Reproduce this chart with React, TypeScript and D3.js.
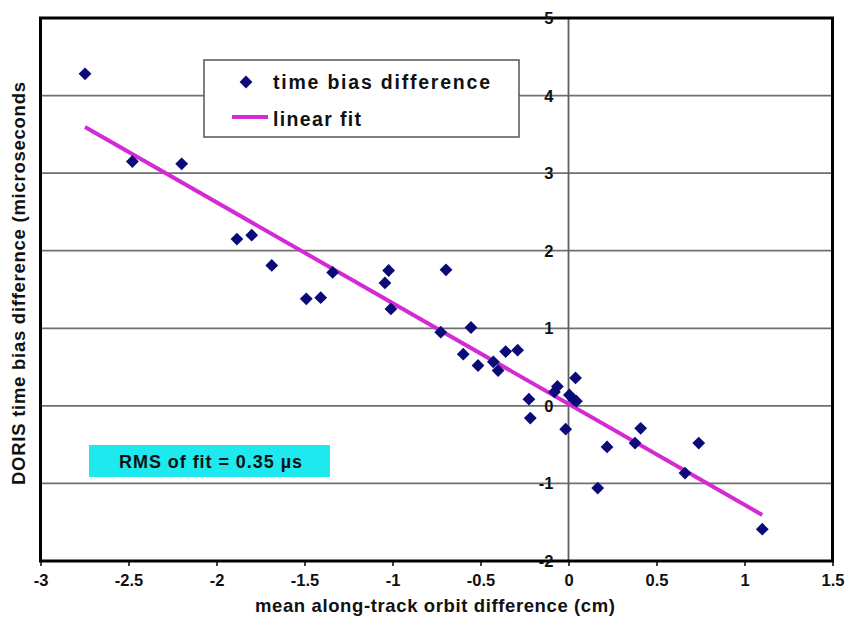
import React, { useEffect, useRef } from "react";
import * as d3 from "d3";

// mean along-track orbit difference (cm)
const orbitDiff = [
  -2.747, -2.478, -2.198, -1.884, -1.8, -1.686, -1.49, -1.408, -1.34, -1.043,
  -1.022, -1.009, -0.696, -0.726, -0.554, -0.598, -0.514, -0.427, -0.4, -0.357,
  -0.289, -0.225, -0.217, -0.08, -0.063, -0.016, 0.005, 0.03, 0.045, 0.04,
  0.166, 0.219, 0.378, 0.41, 0.662, 0.74, 1.101,
];
// DORIS time bias difference (microseconds)
const timeBias = [
  4.28, 3.15, 3.12, 2.15, 2.2, 1.81, 1.38, 1.395, 1.72, 1.585,
  1.745, 1.25, 1.753, 0.95, 1.01, 0.666, 0.52, 0.567, 0.455, 0.7,
  0.718, 0.086, -0.158, 0.18, 0.25, -0.3, 0.14, 0.08, 0.06, 0.36,
  -1.06, -0.53, -0.48, -0.29, -0.867, -0.48, -1.59,
];

// linear fit coefficients
const fitSlope = -1.3;
const fitIntercept = 0.025;

const xTicks = [-3, -2.5, -2, -1.5, -1, -0.5, 0, 0.5, 1, 1.5];
const yTicks = [-2, -1, 0, 1, 2, 3, 4, 5];

const legendLabels = ["time bias difference", "linear fit"];
const rmsLabel = "RMS of fit = 0.35 \u00b5s";
const xTitle = "mean along-track orbit difference (cm)";
const yTitle = "DORIS time bias difference (microseconds";

export default function App() {
  const ref = useRef<SVGSVGElement>(null);

  useEffect(() => {
    const svg = d3.select(ref.current);
    svg.selectAll("*").remove();

    const font = "Arial, 'Liberation Sans', sans-serif";
    const x = d3.scaleLinear().domain([-3, 1.5]).range([40.5, 832.5]);
    const y = d3.scaleLinear().domain([-2, 5]).range([561, 18]);

    // horizontal gridlines
    svg.append("g")
      .selectAll("line")
      .data(yTicks)
      .enter()
      .append("line")
      .attr("x1", x(-3))
      .attr("x2", x(1.5))
      .attr("y1", (d) => y(d))
      .attr("y2", (d) => y(d))
      .attr("stroke", "#707070")
      .attr("stroke-width", 1.8);

    // value axis crossing at x = 0
    svg.append("line")
      .attr("x1", x(0))
      .attr("x2", x(0))
      .attr("y1", y(5))
      .attr("y2", y(-2))
      .attr("stroke", "#606060")
      .attr("stroke-width", 1.8);

    // x axis with ticks
    const xAxis = svg.append("g")
      .attr("transform", "translate(0," + y(-2) + ")")
      .call(
        d3.axisBottom(x)
          .tickValues(xTicks)
          .tickSize(5)
          .tickFormat((d) => String(d))
      );
    xAxis.select(".domain").remove();
    xAxis.selectAll("line").attr("stroke", "#000").attr("stroke-width", 1.5);
    xAxis.selectAll("text")
      .attr("y", 0)
      .attr("dy", "25px")
      .attr("fill", "#111")
      .style("font-family", font)
      .style("font-size", "16.5px")
      .style("font-weight", "bold");

    // plot area border
    svg.append("rect")
      .attr("x", x(-3))
      .attr("y", y(5))
      .attr("width", x(1.5) - x(-3))
      .attr("height", y(-2) - y(5))
      .attr("fill", "none")
      .attr("stroke", "#000")
      .attr("stroke-width", 3);

    // y tick labels next to the axis at x = 0
    svg.append("g")
      .selectAll("text")
      .data(yTicks)
      .enter()
      .append("text")
      .attr("x", x(0) - 15)
      .attr("y", (d) => y(d))
      .attr("dy", "0.36em")
      .attr("text-anchor", "end")
      .attr("fill", "#111")
      .style("font-family", font)
      .style("font-size", "16.5px")
      .style("font-weight", "bold")
      .text((d) => String(d));

    // linear fit line
    const xExt = d3.extent(orbitDiff) as [number, number];
    const line = d3.line<number>()
      .x((d) => x(d))
      .y((d) => y(fitSlope * d + fitIntercept));
    svg.append("path")
      .datum(xExt)
      .attr("d", line)
      .attr("fill", "none")
      .attr("stroke", "#d42ad4")
      .attr("stroke-width", 4);

    // points
    const diamond = d3.symbol().type(d3.symbolSquare).size(82);
    svg.append("g")
      .selectAll("path")
      .data(orbitDiff)
      .enter()
      .append("path")
      .attr("d", diamond)
      .attr("transform", (d, i) => "translate(" + x(d) + "," + y(timeBias[i]) + ") rotate(45)")
      .attr("fill", "#0a0a78");

    // legend
    const lg = svg.append("g");
    lg.append("rect")
      .attr("x", 204)
      .attr("y", 60)
      .attr("width", 315)
      .attr("height", 77)
      .attr("fill", "#fff")
      .attr("stroke", "#555")
      .attr("stroke-width", 1.5);
    lg.append("path")
      .attr("d", diamond)
      .attr("transform", "translate(246,82) rotate(45)")
      .attr("fill", "#0a0a78");
    lg.append("line")
      .attr("x1", 232)
      .attr("x2", 268)
      .attr("y1", 117)
      .attr("y2", 117)
      .attr("stroke", "#d42ad4")
      .attr("stroke-width", 4);
    lg.selectAll("text.lab")
      .data(legendLabels)
      .enter()
      .append("text")
      .attr("class", "lab")
      .attr("x", 273)
      .attr("y", (d, i) => (i === 0 ? 89 : 126))
      .attr("textLength", (d, i) => (i === 0 ? 217 : 88))
      .attr("lengthAdjust", "spacing")
      .attr("fill", "#111")
      .style("font-family", font)
      .style("font-size", "19.5px")
      .style("font-weight", "bold")
      .text((d) => d);

    // RMS box
    svg.append("rect")
      .attr("x", 89)
      .attr("y", 445)
      .attr("width", 241)
      .attr("height", 32)
      .attr("fill", "#1ee9ee");
    svg.append("text")
      .attr("x", 119)
      .attr("y", 468)
      .attr("textLength", 183)
      .attr("lengthAdjust", "spacing")
      .attr("fill", "#111")
      .style("font-family", font)
      .style("font-size", "18px")
      .style("font-weight", "bold")
      .text(rmsLabel);

    // axis titles
    svg.append("text")
      .attr("x", 255)
      .attr("y", 612)
      .attr("textLength", 360)
      .attr("lengthAdjust", "spacing")
      .attr("fill", "#111")
      .style("font-family", font)
      .style("font-size", "18.5px")
      .style("font-weight", "bold")
      .text(xTitle);

    svg.append("text")
      .attr("transform", "translate(25,485) rotate(-90)")
      .attr("textLength", 403)
      .attr("lengthAdjust", "spacing")
      .attr("fill", "#111")
      .style("font-family", font)
      .style("font-size", "18.5px")
      .style("font-weight", "bold")
      .text(yTitle);
  }, []);

  return (
    <div style={{ position: "absolute", left: 0, top: 0 }}>
      <svg ref={ref} width={845} height={618} style={{ display: "block", background: "#fff" }}></svg>
    </div>
  );
}
